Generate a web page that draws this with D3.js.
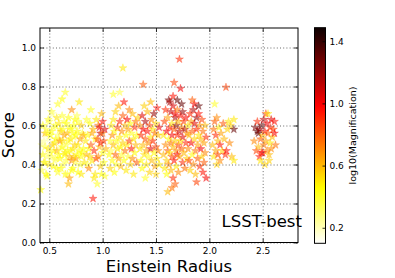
<!DOCTYPE html>
<html>
<head>
<meta charset="utf-8">
<script src="https://cdn.jsdelivr.net/npm/d3@7"></script>
<style>
body{margin:0;background:#fff;}
text{font-family:"DejaVu Sans",sans-serif;}
.tick text{font-size:9px;fill:#000;}
.grid line{stroke:#444;stroke-width:0.8;stroke-dasharray:1,2.2;}
.grid path{display:none;}
.label{font-size:16.5px;}
</style>
</head>
<body>
<svg id="overall"></svg>
<script>
// data points: [einstein radius, score, log10(magnification)], grouped by radius column
var colA=[[0.42,0.27,0.45],[0.43,0.37,0.35],[0.43,0.50,0.25],[0.44,0.45,0.45],[0.44,0.60,0.45],[0.45,0.52,0.25],[0.45,0.41,0.5],[0.46,0.41,0.4],[0.46,0.49,0.35],[0.46,0.56,0.6],[0.47,0.58,0.35],[0.47,0.35,0.45],[0.48,0.34,0.45],[0.48,0.56,0.4],[0.48,0.44,0.3],[0.49,0.48,0.5],[0.49,0.63,0.4],[0.50,0.62,0.35],[0.50,0.40,0.5],[0.50,0.53,0.2],[0.51,0.55,0.45],[0.51,0.46,0.35],[0.52,0.44,0.35],[0.52,0.57,0.45],[0.52,0.67,0.4],[0.53,0.66,0.25],[0.53,0.50,0.55],[0.54,0.39,0.45],[0.54,0.47,0.4],[0.54,0.59,0.35],[0.55,0.51,0.5],[0.55,0.42,0.3],[0.56,0.60,0.4],[0.56,0.43,0.35],[0.56,0.53,0.45],[0.57,0.47,0.6],[0.57,0.64,0.5],[0.57,0.38,0.4],[0.58,0.71,0.4],[0.58,0.36,0.4],[0.58,0.55,0.3],[0.59,0.53,0.35],[0.59,0.45,0.45],[0.59,0.61,0.5],[0.60,0.43,0.45],[0.60,0.52,0.7],[0.60,0.58,0.35],[0.61,0.57,0.55],[0.61,0.38,0.45],[0.61,0.48,0.3],[0.62,0.65,0.4],[0.62,0.49,0.45],[0.62,0.735,0.45],[0.63,0.40,0.35],[0.63,0.58,0.4],[0.63,0.52,0.5],[0.64,0.55,0.65],[0.64,0.45,0.45],[0.64,0.62,0.35],[0.65,0.77,0.4],[0.65,0.46,0.5],[0.65,0.35,0.45],[0.66,0.61,0.45],[0.66,0.50,0.35],[0.66,0.42,0.4],[0.67,0.35,0.35],[0.67,0.56,0.6],[0.67,0.47,0.45],[0.68,0.52,0.4],[0.68,0.64,0.45],[0.68,0.30,0.6],[0.69,0.44,0.6],[0.69,0.33,0.65],[0.69,0.59,0.35],[0.70,0.58,0.45],[0.70,0.47,0.4],[0.70,0.53,0.5],[0.71,0.68,0.7],[0.71,0.42,0.75],[0.71,0.37,0.45],[0.72,0.48,0.5],[0.72,0.38,0.45],[0.72,0.56,0.4],[0.73,0.54,0.35],[0.73,0.60,0.45],[0.73,0.44,0.55],[0.74,0.63,0.45],[0.74,0.50,0.55],[0.74,0.41,0.35],[0.75,0.43,0.65],[0.75,0.55,0.45],[0.76,0.57,0.45],[0.76,0.45,0.45],[0.76,0.65,0.35],[0.77,0.50,0.5],[0.77,0.62,0.4],[0.77,0.36,0.45],[0.78,0.72,0.5],[0.78,0.47,0.45],[0.79,0.40,0.4],[0.79,0.53,0.65],[0.80,0.60,0.55],[0.80,0.35,0.5],[0.80,0.44,0.45],[0.81,0.46,0.45],[0.81,0.56,0.4],[0.82,0.55,0.65],[0.82,0.48,0.45],[0.83,0.41,0.5]]
var colB=[[0.84,0.52,0.5],[0.85,0.45,0.6],[0.85,0.63,0.4],[0.86,0.55,0.45],[0.86,0.40,0.35],[0.87,0.38,0.7],[0.87,0.48,0.45],[0.88,0.61,0.45],[0.88,0.44,0.55],[0.89,0.50,0.8],[0.89,0.68,0.4],[0.90,0.42,0.5],[0.90,0.56,0.65],[0.91,0.225,0.95],[0.91,0.58,0.6],[0.92,0.47,0.9],[0.92,0.33,0.5],[0.93,0.35,0.5],[0.93,0.53,0.45],[0.94,0.63,0.5],[0.94,0.43,0.85],[0.95,0.53,0.85],[0.95,0.30,0.4],[0.96,0.44,0.7],[0.96,0.60,0.75],[0.97,0.59,1.0],[0.97,0.49,0.6],[0.98,0.39,0.55],[0.98,0.51,0.9],[0.98,0.56,1.1],[0.99,0.66,0.6],[0.99,0.35,0.45],[1.00,0.46,0.45],[1.00,0.56,0.75],[1.00,0.62,0.95],[1.01,0.41,0.45],[1.01,0.52,0.85],[1.02,0.34,0.4],[1.02,0.58,1.05],[1.03,0.48,0.6]]
var colC=[[1.06,0.45,0.45],[1.07,0.52,0.4],[1.07,0.38,0.55],[1.08,0.60,0.5],[1.08,0.47,0.35],[1.09,0.55,0.7],[1.09,0.42,0.45],[1.10,0.76,0.4],[1.10,0.63,0.5],[1.10,0.50,0.6],[1.11,0.36,0.45],[1.11,0.57,0.45],[1.12,0.45,0.8],[1.12,0.67,0.55],[1.13,0.52,0.45],[1.13,0.40,0.4],[1.14,0.59,0.85],[1.14,0.48,0.5],[1.15,0.70,0.6],[1.15,0.43,0.65],[1.16,0.77,0.35],[1.16,0.54,0.5],[1.16,0.62,0.9],[1.17,0.49,0.45],[1.17,0.39,0.6],[1.18,0.57,0.7],[1.18,0.45,0.4],[1.19,0.895,0.5],[1.19,0.65,0.8],[1.19,0.51,0.55],[1.20,0.72,0.95],[1.20,0.42,0.45],[1.21,0.60,0.6],[1.21,0.47,0.75],[1.22,0.55,0.45],[1.22,0.37,0.5],[1.23,0.63,1.0],[1.23,0.50,0.5],[1.24,0.44,0.4],[1.24,0.58,0.65],[1.25,0.68,0.7],[1.25,0.52,0.85],[1.26,0.40,0.55],[1.26,0.61,0.45],[1.27,0.48,0.95],[1.27,0.56,0.4],[1.28,0.66,0.6],[1.28,0.43,0.7],[1.29,0.53,0.5],[1.29,0.35,0.5],[1.30,0.59,0.9],[1.30,0.46,0.45],[1.31,0.62,0.75],[1.31,0.50,0.6],[1.32,0.41,0.8],[1.32,0.55,0.45],[1.33,0.64,0.55]]
var colD=[[1.35,0.48,0.5],[1.35,0.60,0.7],[1.36,0.42,0.45],[1.36,0.55,0.9],[1.37,0.65,1.05],[1.37,0.38,0.45],[1.38,0.81,0.8],[1.38,0.50,0.6],[1.38,0.58,1.0],[1.39,0.45,0.5],[1.39,0.70,0.55],[1.40,0.53,0.8],[1.40,0.62,1.15],[1.41,0.40,0.5],[1.41,0.47,0.65],[1.42,0.57,0.95],[1.42,0.67,0.6],[1.43,0.44,0.4],[1.43,0.51,0.7],[1.44,0.60,0.85],[1.44,0.36,0.55],[1.45,0.54,0.5],[1.45,0.48,1.05],[1.46,0.63,0.7],[1.46,0.42,0.6],[1.47,0.58,0.5],[1.47,0.52,0.9],[1.48,0.46,0.45],[1.48,0.66,1.2],[1.49,0.39,0.65],[1.49,0.56,0.75],[1.50,0.61,0.55],[1.50,0.49,0.85],[1.51,0.43,0.5],[1.51,0.69,0.95],[1.52,0.55,0.6],[1.52,0.47,0.7],[1.53,0.40,0.5],[1.53,0.59,1.0],[1.45,0.72,0.6],[1.50,0.35,0.55],[1.40,0.33,0.4]]
var colE=[[1.57,0.45,0.6],[1.57,0.55,0.5],[1.58,0.38,0.5],[1.58,0.62,0.85],[1.59,0.50,0.7],[1.59,0.68,0.9],[1.60,0.42,0.55],[1.60,0.57,1.0],[1.60,0.35,0.45],[1.61,0.47,0.8],[1.61,0.64,0.65],[1.62,0.53,0.45],[1.62,0.73,1.25],[1.62,0.40,0.7],[1.63,0.59,0.95],[1.63,0.46,0.5],[1.64,0.67,1.1],[1.64,0.51,0.75],[1.64,0.37,0.6],[1.65,0.55,1.0],[1.65,0.44,0.85],[1.65,0.61,0.5],[1.66,0.70,1.05],[1.66,0.49,0.6],[1.66,0.33,0.9],[1.67,0.58,0.8],[1.67,0.82,0.85],[1.67,0.42,0.95],[1.68,0.64,1.15],[1.68,0.52,0.55],[1.68,0.66,1.0],[1.69,0.47,0.7],[1.69,0.60,1.2],[1.69,0.39,0.5],[1.70,0.55,0.9],[1.70,0.68,0.75],[1.70,0.45,1.0],[1.71,0.62,0.6],[1.71,0.50,0.85],[1.71,0.36,0.7],[1.72,0.94,0.9],[1.72,0.57,1.1],[1.72,0.44,0.65],[1.73,0.79,1.0],[1.73,0.65,0.95],[1.73,0.52,0.5],[1.74,0.71,1.3],[1.74,0.48,0.8],[1.74,0.59,0.7],[1.75,0.67,1.2],[1.75,0.41,0.9],[1.75,0.54,1.05],[1.76,0.62,0.85],[1.76,0.46,0.6],[1.77,0.58,1.15],[1.77,0.38,0.75],[1.78,0.51,0.9],[1.78,0.64,1.0],[1.79,0.56,0.7],[1.79,0.43,0.55],[1.63,0.72,1.15],[1.66,0.75,0.95],[1.70,0.73,1.3],[1.68,0.30,0.8],[1.61,0.26,0.6],[1.65,0.28,0.75]]
var colF=[[1.80,0.48,0.7],[1.80,0.60,0.5],[1.81,0.42,0.85],[1.81,0.55,0.6],[1.82,0.66,0.9],[1.82,0.37,0.55],[1.83,0.51,1.0],[1.83,0.62,0.65],[1.84,0.45,0.45],[1.84,0.57,0.8],[1.85,0.68,1.15],[1.85,0.40,0.7],[1.86,0.53,0.55],[1.86,0.61,1.05],[1.87,0.47,0.75],[1.87,0.35,0.6],[1.88,0.58,0.9],[1.88,0.64,1.2],[1.89,0.50,0.65],[1.89,0.43,0.8],[1.90,0.55,0.5],[1.90,0.66,0.95],[1.91,0.39,0.9],[1.91,0.60,0.7],[1.92,0.48,1.0],[1.92,0.53,0.6],[1.93,0.63,0.85],[1.93,0.44,0.55],[1.94,0.57,0.75],[1.94,0.36,0.95],[1.95,0.51,0.65],[1.95,0.41,0.8],[1.96,0.60,0.6],[1.96,0.46,0.7],[1.97,0.54,0.9],[1.97,0.33,1.0],[1.86,0.71,1.0],[1.90,0.70,1.3],[1.84,0.73,0.8],[1.88,0.31,0.85]]
var colG=[[2.03,0.50,0.6],[2.04,0.58,0.75],[2.04,0.44,0.5],[2.05,0.71,0.4],[2.05,0.62,0.8],[2.06,0.47,0.65],[2.06,0.55,0.9],[2.07,0.40,0.55],[2.07,0.64,0.7],[2.08,0.52,0.6],[2.08,0.45,0.85],[2.09,0.59,0.5],[2.10,0.42,0.7],[2.10,0.50,0.95],[2.11,0.56,0.65],[2.12,0.47,0.55],[2.13,0.61,0.8],[2.14,0.53,0.6],[2.15,0.45,0.9],[2.156,0.796,0.85],[2.16,0.47,0.95],[2.17,0.58,0.55],[2.18,0.62,0.5],[2.19,0.51,0.7],[2.20,0.60,0.55],[2.21,0.44,0.6],[2.23,0.63,0.5],[2.23,0.58,1.3],[2.23,0.42,0.5]]
var colH=[[2.42,0.52,0.7],[2.43,0.59,1.25],[2.44,0.47,0.85],[2.45,0.57,1.3],[2.45,0.62,0.9],[2.46,0.56,1.3],[2.46,0.49,0.6],[2.47,0.44,0.95],[2.47,0.58,1.2],[2.48,0.42,0.5],[2.48,0.53,0.8],[2.49,0.60,1.3],[2.49,0.46,0.9],[2.50,0.46,1.0],[2.50,0.55,0.6],[2.51,0.63,1.1],[2.51,0.50,0.75],[2.52,0.57,0.95],[2.52,0.40,0.55],[2.53,0.66,0.85],[2.53,0.52,0.65],[2.54,0.61,1.0],[2.54,0.47,0.7],[2.55,0.66,0.5],[2.55,0.56,0.8],[2.56,0.45,0.6],[2.56,0.42,0.55],[2.57,0.59,0.9],[2.57,0.51,0.5],[2.58,0.63,1.05],[2.58,0.48,0.7],[2.59,0.54,0.6],[2.60,0.58,0.85],[2.61,0.62,0.95],[2.61,0.56,1.0],[2.62,0.50,0.75]]

var xTicks=[0.5,1.0,1.5,2.0,2.5]
var yTicks=[0.0,0.2,0.4,0.6,0.8,1.0]
var cTicks=[0.2,0.6,1.0,1.4]
var xDomain=[0.413,2.831]
var yDomain=[0,1.1]
var cDomain=[0.1,1.487]

//matplotlib hot_r colormap
var hotR=function(t){
    var u=1-Math.max(0,Math.min(1,t))
    var r=u<0.365079?0.0416+(1-0.0416)*u/0.365079:1
    var g=u<0.365079?0:(u<0.746032?(u-0.365079)/(0.746032-0.365079):1)
    var b=u<0.746032?0:(u-0.746032)/(1-0.746032)
    return d3.rgb(r*255,g*255,b*255).toString()
}

var screen={width:395,height:278}
var margins={left:40,right:97,top:28,bottom:35.5}
var graph={
    width:screen.width-margins.left-margins.right,
    height:screen.height-margins.top-margins.bottom
}

var svg=d3.select("#overall")
    .attr("width",screen.width)
    .attr("height",screen.height)

var xScale=d3.scaleLinear().domain(xDomain).range([0,graph.width])
var yScale=d3.scaleLinear().domain(yDomain).range([graph.height,0])
var cNorm=d3.scaleLinear().domain(cDomain).range([0,1]).clamp(true)

var plot=svg.append("g")
    .attr("transform","translate("+margins.left+","+margins.top+")")

//points
var allPoints=colA.concat(colB,colC,colD,colE,colF,colG,colH)
var star=d3.symbol().type(d3.symbolStar).size(20)
plot.append("g")
    .selectAll("path")
    .data(allPoints)
    .enter()
    .append("path")
    .attr("d",star)
    .attr("transform",function(d){return "translate("+xScale(d[0])+","+yScale(d[1])+")"})
    .attr("fill",function(d){return hotR(cNorm(d[2]))})
    .attr("stroke",function(d){return hotR(cNorm(d[2]))})
    .attr("stroke-width",0.5)
    .attr("fill-opacity",0.55)
    .attr("stroke-opacity",0.55)

//grid
plot.append("g").classed("grid",true)
    .attr("transform","translate(0,"+graph.height+")")
    .call(d3.axisBottom(xScale).tickValues(xTicks).tickSize(-graph.height).tickFormat(""))
plot.append("g").classed("grid",true)
    .call(d3.axisLeft(yScale).tickValues(yTicks).tickSize(-graph.width).tickFormat(""))

//axes with inward ticks
var fmt=d3.format(".1f")
plot.append("g")
    .attr("transform","translate(0,"+graph.height+")")
    .call(d3.axisBottom(xScale).tickValues(xTicks).tickSize(-4).tickSizeOuter(0).tickPadding(5).tickFormat(fmt))
plot.append("g")
    .call(d3.axisLeft(yScale).tickValues(yTicks).tickSize(-4).tickSizeOuter(0).tickPadding(4).tickFormat(fmt))
plot.append("g")
    .call(d3.axisTop(xScale).tickValues(xTicks).tickSize(-4).tickSizeOuter(0).tickFormat(""))
plot.append("g")
    .attr("transform","translate("+graph.width+",0)")
    .call(d3.axisRight(yScale).tickValues(yTicks).tickSize(-4).tickSizeOuter(0).tickFormat(""))
plot.selectAll(".domain").remove()
plot.selectAll(".tick line").filter(function(){return !this.parentNode.parentNode.classList.contains("grid")})
    .attr("stroke","#000").attr("stroke-width",0.8)

plot.append("rect")
    .attr("width",graph.width)
    .attr("height",graph.height)
    .attr("fill","none")
    .attr("stroke","#000")
    .attr("stroke-width",1)

//labels
svg.append("text")
    .text("Einstein Radius")
    .classed("label",true)
    .attr("text-anchor","middle")
    .attr("x",margins.left+graph.width/2)
    .attr("y",272)
svg.append("g")
    .attr("transform","translate(14,"+(margins.top+graph.height/2)+")")
    .append("text")
    .text("Score")
    .classed("label",true)
    .attr("text-anchor","middle")
    .attr("transform","rotate(-90)")
svg.append("text")
    .text("LSST-best")
    .classed("label",true)
    .attr("x",221.5)
    .attr("y",226.5)

//colorbar
var cbar={x:314.5,y:27.7,width:11,height:215.6}
var cScale=d3.scaleLinear().domain(cDomain).range([cbar.height,0])
var grad=svg.append("defs").append("linearGradient")
    .attr("id","cgrad")
    .attr("x1",0).attr("y1",1).attr("x2",0).attr("y2",0)
grad.selectAll("stop")
    .data(d3.range(0,1.0001,0.02))
    .enter()
    .append("stop")
    .attr("offset",function(d){return d})
    .attr("stop-color",function(d){return hotR(d)})
var cg=svg.append("g")
    .attr("transform","translate("+cbar.x+","+cbar.y+")")
cg.append("rect")
    .attr("width",cbar.width)
    .attr("height",cbar.height)
    .attr("fill","url(#cgrad)")
cg.append("g")
    .attr("transform","translate("+cbar.width+",0)")
    .call(d3.axisRight(cScale).tickValues(cTicks).tickSize(-3).tickSizeOuter(0).tickPadding(4).tickFormat(fmt))
    .call(function(g){g.select(".domain").remove()})
cg.selectAll(".tick line").attr("stroke","#000").attr("stroke-width",0.8)
cg.append("rect")
    .attr("width",cbar.width)
    .attr("height",cbar.height)
    .attr("fill","none")
    .attr("stroke","#000")
    .attr("stroke-width",1)
svg.append("g")
    .attr("transform","translate(356,"+(cbar.y+cbar.height/2)+")")
    .append("text")
    .text("log10(Magnification)")
    .attr("font-size","9.5px")
    .attr("text-anchor","middle")
    .attr("transform","rotate(-90)")
</script>
</body>
</html>
